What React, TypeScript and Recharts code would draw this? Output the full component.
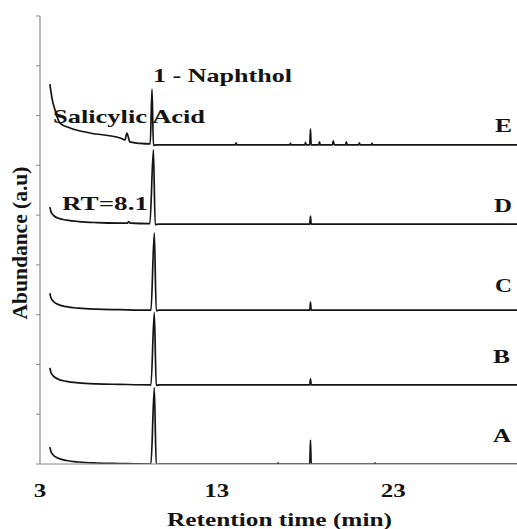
import { Line, LineChart, XAxis, YAxis } from "recharts";

type Pt = [number, number];

const xTicks = [3, 13, 23];
const yTicks = [0, 1, 2, 3, 4, 5, 6, 7, 8, 9];

// time (min), abundance above the trace baseline (a.u.)
const traceA: Pt[] = [
  [3.56, 0.34], [3.62, 0.25], [3.75, 0.18], [4.0, 0.12], [4.5, 0.07], [5.2, 0.04], [6.2, 0.02],
  [7.5, 0.01], [9.28, 0.0], [9.47, 1.53], [9.58, -0.01], [9.75, 0.0], [16.4, 0.0], [16.47, 0.02],
  [16.54, 0.0], [18.27, 0.0], [18.31, 0.48], [18.35, 0.0], [21.9, 0.0], [21.96, 0.02], [22.02, 0.0],
  [30, 0.0],
];
const traceB: Pt[] = [
  [3.56, 0.34], [3.62, 0.25], [3.75, 0.18], [4.0, 0.12], [4.5, 0.07], [5.2, 0.04], [6.2, 0.02],
  [7.5, 0.01], [9.28, 0.0], [9.47, 1.45], [9.58, -0.01], [9.75, 0.0], [18.27, 0.0], [18.31, 0.12],
  [18.35, 0.0], [30, 0.0],
];
const traceC: Pt[] = [
  [3.56, 0.34], [3.62, 0.25], [3.75, 0.18], [4.0, 0.12], [4.5, 0.07], [5.2, 0.04], [6.2, 0.02],
  [7.5, 0.01], [9.28, 0.0], [9.47, 1.55], [9.58, -0.01], [9.75, 0.0], [18.27, 0.0], [18.31, 0.16],
  [18.35, 0.0], [30, 0.0],
];
const traceD: Pt[] = [
  [3.56, 0.34], [3.62, 0.25], [3.75, 0.18], [4.0, 0.12], [4.5, 0.08], [5.2, 0.05], [6.2, 0.03],
  [7.5, 0.02], [7.95, 0.02], [8.02, 0.05], [8.1, 0.02], [9.22, 0.01], [9.42, 1.49], [9.52, -0.01],
  [9.7, 0.0], [18.27, 0.0], [18.31, 0.16], [18.35, 0.0], [30, 0.0],
];
const traceE: Pt[] = [
  [3.56, 1.22], [3.7, 0.9], [3.85, 0.7], [4.13, 0.44], [4.7, 0.34], [5.83, 0.24], [7.53, 0.14],
  [7.81, 0.1], [7.92, 0.24], [8.09, 0.06], [8.66, 0.03], [9.24, 0.02], [9.34, 1.12], [9.42, -0.01],
  [9.6, 0.0], [14.05, 0.0], [14.1, 0.04], [14.15, 0.0], [17.14, 0.0], [17.18, 0.03], [17.22, 0.0],
  [17.99, 0.0], [18.03, 0.05], [18.07, 0.0], [18.27, 0.0], [18.31, 0.32], [18.35, 0.0], [18.78, 0.0],
  [18.82, 0.06], [18.86, 0.0], [19.55, 0.0], [19.6, 0.08], [19.66, 0.0], [20.3, 0.0], [20.34, 0.06],
  [20.38, 0.0], [21.04, 0.0], [21.08, 0.04], [21.12, 0.0], [21.76, 0.0], [21.8, 0.03], [21.84, 0.0],
  [30, 0.0],
];

const traceNames = ["A", "B", "C", "D", "E"];
const traceOffsets = [0, 1.59, 3.09, 4.82, 6.41];
const traces = [traceA, traceB, traceC, traceD, traceE];

const AXIS_GREY = "#8a8a8a";
const INK = "#141414";
const textStyle = { fontFamily: "Liberation Serif, Times New Roman, serif", fontWeight: 700 };

const XTick = ({ x, y, payload }: { x?: number; y?: number; payload?: { value: number } }) => {
  const label = String(payload?.value ?? "");
  return (
    <text
      x={x}
      y={(y ?? 0) + 33}
      textAnchor="middle"
      style={textStyle}
      fontSize={19}
      fill={INK}
      textLength={label.length * 12.5}
      lengthAdjust="spacingAndGlyphs"
    >
      {label}
    </text>
  );
};

type Note = { text: string; x: number; y: number; len: number };

const notes: Note[] = [
  { text: "1 - Naphthol", x: 153, y: 82, len: 139 },
  { text: "Salicylic Acid", x: 53, y: 123, len: 152 },
  { text: "RT=8.1", x: 62, y: 210, len: 86 },
  { text: "E", x: 495, y: 132, len: 17 },
  { text: "D", x: 494, y: 212, len: 18 },
  { text: "C", x: 495, y: 292, len: 17 },
  { text: "B", x: 493, y: 363, len: 17 },
  { text: "A", x: 493, y: 442, len: 18 },
  { text: "Retention time (min)", x: 167, y: 526, len: 225 },
];

export default function App() {
  return (
    <div style={{ position: "absolute", left: 0, top: 0, width: 517, height: 529, background: "#fff" }}>
      <LineChart width={517} height={529} margin={{ top: 16, right: 0, bottom: 35, left: 0 }}>
        <XAxis
          type="number"
          dataKey="t"
          domain={[3, 30]}
          ticks={xTicks}
          allowDataOverflow
          height={30}
          tickLine={false}
          tickSize={0}
          tickMargin={0}
          axisLine={{ stroke: AXIS_GREY, strokeWidth: 1.2 }}
          tick={<XTick />}
        />
        <YAxis
          type="number"
          domain={[0, 9]}
          ticks={yTicks}
          allowDataOverflow
          width={40}
          tickSize={4}
          tickFormatter={() => ""}
          axisLine={{ stroke: AXIS_GREY, strokeWidth: 1.2 }}
          tickLine={{ stroke: AXIS_GREY }}
        />
        {traces.map((trace, i) => (
          <Line
            key={traceNames[i]}
            data={trace.map(([t, v]) => ({ t, v: v + traceOffsets[i] }))}
            dataKey="v"
            type="monotone"
            dot={false}
            activeDot={false}
            stroke={INK}
            strokeWidth={1.7}
            isAnimationActive={false}
          />
        ))}
      </LineChart>
      <svg
        width={517}
        height={529}
        style={{ position: "absolute", left: 0, top: 0, pointerEvents: "none" }}
      >
        {notes.map((n) => (
          <text
            key={n.text}
            x={n.x}
            y={n.y}
            style={textStyle}
            fontSize={19}
            fill={INK}
            textLength={n.len}
            lengthAdjust="spacingAndGlyphs"
          >
            {n.text}
          </text>
        ))}
        <text
          transform="translate(27 243) rotate(-90)"
          textAnchor="middle"
          style={textStyle}
          fontSize={20}
          fill={INK}
          textLength={153}
          lengthAdjust="spacingAndGlyphs"
        >
          Abundance (a.u)
        </text>
      </svg>
    </div>
  );
}
